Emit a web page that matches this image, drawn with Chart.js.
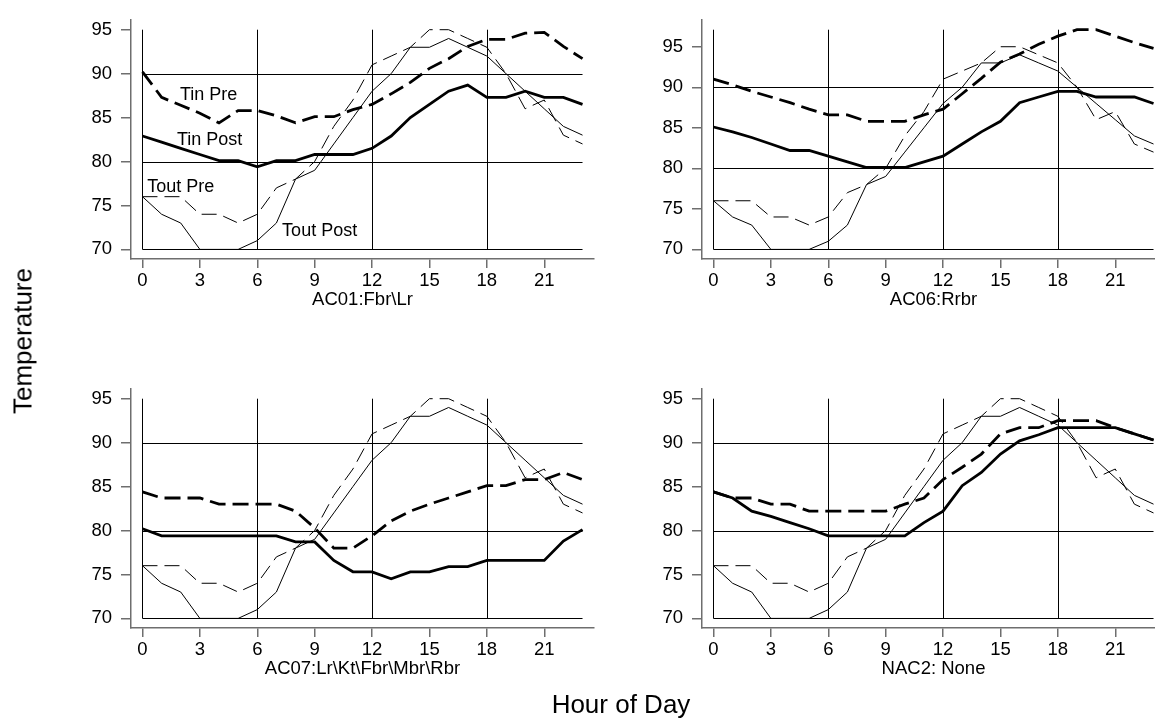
<!DOCTYPE html>
<html>
<head>
<meta charset="utf-8">
<script src="https://cdn.jsdelivr.net/npm/chart.js@4/dist/chart.umd.min.js"></script>
<style>
  html, body { margin: 0; padding: 0; background: #fff; width: 1155px; height: 721px; overflow: hidden; }
  #wrap { position: relative; width: 1155px; height: 721px; overflow: hidden; font-family: "Liberation Sans", Arial, sans-serif; }
  canvas { position: absolute; }
  .axt { position: absolute; font-size: 26px; color: #000; white-space: nowrap; }
</style>
</head>
<body>
<div id="wrap">
  <canvas id="c1" width="600" height="330" style="left:0px;top:0px"></canvas>
  <canvas id="c2" width="600" height="330" style="left:571px;top:0px"></canvas>
  <canvas id="c3" width="600" height="330" style="left:0px;top:369px"></canvas>
  <canvas id="c4" width="600" height="330" style="left:571px;top:369px"></canvas>
  <div class="axt" id="ytitle" style="left:23px;top:341px;transform:translate(-50%,-50%) rotate(-90deg);">Temperature</div>
  <div class="axt" id="xtitle" style="left:621px;top:704px;transform:translate(-50%,-50%);">Hour of Day</div>
</div>
<script>
// ---------- data ----------
const hours = [0,1,2,3,4,5,6,7,8,9,10,11,12,13,14,15,16,17,18,19,20,21,22,23];
const xTickValues = [0,3,6,9,12,15,18,21];
const yTickValues = [70,75,80,85,90,95];
const xLineValues = [0,6,12,18];
const yLineValues = [70,80,90];

const toutPre  = [76,76,76,74,74,73,74,77,78,80,84,87,91,92,93,95,95,94,93,90,86,87,83,82];
const toutPost = [76,74,73,70,70,70,71,73,78,79,82,85,88,90,93,93,94,93,92,90,88,86,84,83];

const tinPreAC01  = [90.2,87.3,86.4,85.5,84.4,85.8,85.8,85.2,84.4,85.1,85.1,85.9,86.5,87.7,89.0,90.6,91.7,93.1,93.9,93.9,94.6,94.7,93.1,91.7];
const tinPostAC01 = [82.9,82.2,81.5,80.8,80.1,80.1,79.4,80.1,80.1,80.8,80.8,80.8,81.5,82.9,85.0,86.5,88.0,88.7,87.3,87.3,88.0,87.3,87.3,86.5];

const tinPreAC06  = [91.0,90.3,89.5,88.8,88.1,87.3,86.6,86.6,85.8,85.8,85.8,86.6,87.3,89.2,91.1,93.1,94.1,95.3,96.3,97.1,97.1,96.3,95.5,94.8];
const tinPostAC06 = [85.1,84.5,83.8,83.0,82.2,82.2,81.5,80.8,80.1,80.1,80.1,80.8,81.5,83.0,84.5,85.8,88.1,88.8,89.5,89.5,88.8,88.8,88.8,88.0];

const tinPreAC07  = [84.4,83.7,83.7,83.7,83.0,83.0,83.0,83.0,82.2,80.3,78.0,78.0,79.4,81.1,82.2,83.0,83.7,84.4,85.1,85.1,85.8,85.8,86.6,85.8];
const tinPostAC07 = [80.2,79.4,79.4,79.4,79.4,79.4,79.4,79.4,78.7,78.7,76.6,75.3,75.3,74.5,75.3,75.3,75.9,75.9,76.6,76.6,76.6,76.6,78.8,80.1];

const tinPreNAC2  = [84.4,83.7,83.7,83.0,83.0,82.2,82.2,82.2,82.2,82.2,83.0,83.7,85.8,87.2,88.7,91.0,91.7,91.7,92.5,92.5,92.5,91.7,91.0,90.3];
const tinPostNAC2 = [84.4,83.7,82.2,81.6,80.9,80.2,79.4,79.4,79.4,79.4,79.4,80.9,82.2,85.1,86.6,88.7,90.2,90.9,91.7,91.7,91.7,91.7,91.0,90.3];

const panelTitles = ["AC01:Fbr\\Lr", "AC06:Rrbr", "AC07:Lr\\Kt\\Fbr\\Mbr\\Rbr", "NAC2: None"];
const seriesNames = ["Tin Pre", "Tin Post", "Tout Pre", "Tout Post"];
// series labels written in the first panel (x in hours, y in degrees)
const labelTexts = ["Tin Pre", "Tin Post", "Tout Pre", "Tout Post"];
const labelX = [3.46, 3.51, 2.0, 9.26];
const labelY = [87.6, 82.4, 77.1, 72.1];

// ---------- chart construction ----------
const FONT = '"Liberation Sans", Arial, sans-serif';
const AXIS_GRAY = '#6e6e6e';

const panels = [
  { id: 'c1', title: panelTitles[0], pre: tinPreAC01, post: tinPostAC01, labels: true },
  { id: 'c2', title: panelTitles[1], pre: tinPreAC06, post: tinPostAC06, labels: false },
  { id: 'c3', title: panelTitles[2], pre: tinPreAC07, post: tinPostAC07, labels: false },
  { id: 'c4', title: panelTitles[3], pre: tinPreNAC2, post: tinPostNAC2, labels: false }
];

function pts(arr) { return hours.map((h, i) => ({ x: h, y: arr[i] })); }

const refLines = {
  id: 'refLines',
  beforeDatasetsDraw(chart, args, opts) {
    const { ctx } = chart;
    const xs = chart.scales.x, ys = chart.scales.y;
    const x0 = xs.getPixelForValue(hours[0]);
    const x1 = xs.getPixelForValue(hours[hours.length - 1]);
    const yb = ys.getPixelForValue(opts.dmin);
    const yt = ys.getPixelForValue(opts.dmax);
    ctx.save();
    ctx.strokeStyle = '#000';
    ctx.lineWidth = 1;
    ctx.beginPath();
    yLineValues.forEach(v => {
      const y = Math.round(ys.getPixelForValue(v)) + 0.5;
      ctx.moveTo(x0, y); ctx.lineTo(x1, y);
    });
    xLineValues.forEach(v => {
      const x = Math.round(xs.getPixelForValue(v)) + 0.5;
      ctx.moveTo(x, yb); ctx.lineTo(x, yt);
    });
    ctx.stroke();
    ctx.restore();
  }
};

const seriesLabels = {
  id: 'seriesLabels',
  afterDatasetsDraw(chart, args, opts) {
    if (!opts.show) return;
    const { ctx } = chart;
    const xs = chart.scales.x, ys = chart.scales.y;
    ctx.save();
    ctx.fillStyle = '#000';
    ctx.font = '18px ' + FONT;
    ctx.textAlign = 'center';
    ctx.textBaseline = 'middle';
    labelTexts.forEach((t, i) => {
      ctx.fillText(t, xs.getPixelForValue(labelX[i]), ys.getPixelForValue(labelY[i]));
    });
    ctx.restore();
  }
};

panels.forEach(p => {
  const all = [].concat(p.pre, p.post, toutPre, toutPost);
  const dmin = Math.min.apply(null, all);
  const dmax = Math.max.apply(null, all);
  const pad = (dmax - dmin) * 10 / 229;

  new Chart(document.getElementById(p.id), {
    type: 'line',
    data: {
      datasets: [
        { label: seriesNames[0], data: pts(p.pre), borderColor: '#000', borderWidth: 2.8, borderDash: [16, 7] },
        { label: seriesNames[1], data: pts(p.post), borderColor: '#000', borderWidth: 2.8 },
        { label: seriesNames[2], data: pts(toutPre), borderColor: '#000', borderWidth: 1, borderDash: [15, 7] },
        { label: seriesNames[3], data: pts(toutPost), borderColor: '#000', borderWidth: 1 }
      ]
    },
    options: {
      responsive: false,
      animation: false,
      devicePixelRatio: 1,
      layout: { padding: { left: 0, top: 10, right: 6, bottom: 0 } },
      elements: { point: { radius: 0 }, line: { tension: 0, fill: false, borderCapStyle: 'butt', borderJoinStyle: 'miter' } },
      plugins: {
        legend: { display: false },
        tooltip: { enabled: false },
        refLines: { dmin: dmin, dmax: dmax },
        seriesLabels: { show: p.labels }
      },
      scales: {
        x: {
          type: 'linear',
          min: -0.6,
          max: 23.6,
          afterBuildTicks: s => { s.ticks = xTickValues.map(v => ({ value: v })); },
          afterFit: s => { s.height = 71; },
          grid: { display: true, drawOnChartArea: false, drawTicks: true, tickLength: 9, color: AXIS_GRAY, lineWidth: 1.5 },
          border: { display: true, color: AXIS_GRAY, width: 1.5 },
          ticks: { color: '#000', font: { family: FONT, size: 18.5 }, padding: 2, maxRotation: 0, autoSkip: false },
          title: { display: true, text: p.title, color: '#000', font: { family: FONT, size: 18.5 }, padding: { top: 0, bottom: 19 } }
        },
        y: {
          type: 'linear',
          min: dmin - pad,
          max: dmax + pad,
          afterBuildTicks: s => { s.ticks = yTickValues.map(v => ({ value: v })); },
          afterFit: s => { s.width = 131; },
          grid: { display: true, drawOnChartArea: false, drawTicks: true, tickLength: 10, color: AXIS_GRAY, lineWidth: 1.5 },
          border: { display: true, color: AXIS_GRAY, width: 1.5 },
          ticks: { color: '#000', font: { family: FONT, size: 18.5 }, padding: 9, autoSkip: false }
        }
      }
    },
    plugins: [refLines, seriesLabels]
  });
});
</script>
</body>
</html>
